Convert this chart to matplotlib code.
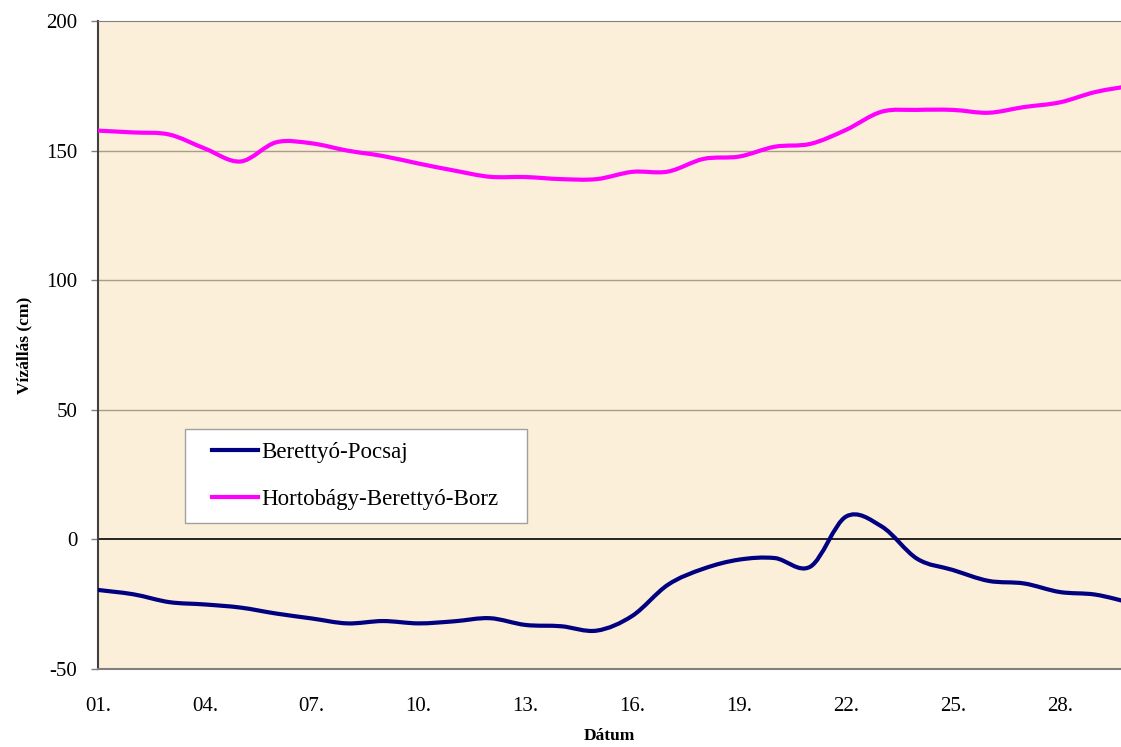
import numpy as np
import matplotlib
matplotlib.use("Agg")
from matplotlib import pyplot as plt
from matplotlib.path import Path
from matplotlib.patches import PathPatch
from matplotlib.lines import Line2D
from matplotlib.legend_handler import HandlerLine2D

napok = list(range(1, 31))
pocsaj = [-19.5, -21.2, -24.2, -25.1, -26.3, -28.6, -30.5, -32.4, -31.5, -32.4,
          -31.6, -30.4, -33.0, -33.5, -35.2, -29.5, -17.5, -11.3, -7.8, -7.2,
          -10.5, 8.8, 5.0, -7.5, -11.8, -16.0, -17.0, -20.3, -21.3, -24.5]
borz = [157.7, 157.0, 156.2, 150.8, 145.8, 153.2, 152.8, 150.0, 147.9, 145.0,
        142.3, 139.9, 139.8, 139.0, 139.0, 141.8, 141.9, 146.8, 147.7, 151.5,
        152.6, 158.0, 165.0, 165.7, 165.7, 164.6, 166.8, 168.6, 172.6, 175.0]
cimkek = ["01.", "04.", "07.", "10.", "13.", "16.", "19.", "22.", "25.", "28."]
cimke_napok = [1, 4, 7, 10, 13, 16, 19, 22, 25, 28]

plt.rcParams['font.family'] = ['Liberation Serif', 'DejaVu Serif']
plt.rcParams['axes.unicode_minus'] = False


def simitott(x, y):
    # Excel-szeru simitott vonal: Bezier szakaszok a pontok kozott
    x = np.asarray(x, float)
    y = np.asarray(y, float)
    n = len(x)
    verts = [(x[0], y[0])]
    codes = [Path.MOVETO]
    for i in range(n - 1):
        i0 = max(i - 1, 0)
        i3 = min(i + 2, n - 1)
        c1 = (x[i] + (x[i + 1] - x[i0]) / 6, y[i] + (y[i + 1] - y[i0]) / 6)
        c2 = (x[i + 1] - (x[i3] - x[i]) / 6, y[i + 1] - (y[i3] - y[i]) / 6)
        verts += [c1, c2, (x[i + 1], y[i + 1])]
        codes += [Path.CURVE4] * 3
    return Path(verts, codes)


class Kezelo(HandlerLine2D):
    # a jelmagyarazat vonala kicsit beljebb kezdodik
    def create_artists(self, legend, orig_handle, xdescent, ydescent,
                       width, height, fontsize, trans):
        arts = super().create_artists(legend, orig_handle, xdescent, ydescent,
                                      width, height, fontsize, trans)
        for a in arts:
            xd = np.asarray(a.get_xdata(), float)
            if len(xd) >= 2:
                a.set_xdata([xd[0] + 0.65 * fontsize, xd[-1]])
                a.set_ydata([a.get_ydata()[0]] * 2)
        return arts


fig = plt.figure(figsize=(11.21, 7.47), dpi=100)
ax = fig.add_axes([98 / 1121, 1 - 669 / 747, 1 - 98 / 1121, (669 - 21) / 747])
ax.set_facecolor('#FBEFD9')

ax.set_xlim(1, 29.72)
ax.set_ylim(-50, 200)

for g in [50, 100, 150]:
    ax.axhline(g, color='#A89C8C', lw=1, zorder=1)
ax.axhline(0, color='black', lw=1.2, zorder=1)

ax.add_patch(PathPatch(simitott(napok, pocsaj), fill=False, edgecolor='#000080',
                       lw=3, capstyle='round', joinstyle='round', zorder=3))
ax.add_patch(PathPatch(simitott(napok, borz), fill=False, edgecolor='#FF00FF',
                       lw=3, capstyle='round', joinstyle='round', zorder=3))

ax.set_yticks([-50, 0, 50, 100, 150, 200])
ax.set_xticks(cimke_napok)
ax.set_xticklabels(cimkek)
ax.tick_params(axis='y', labelsize=15, length=5, width=1, color='#808080', pad=10)
ax.tick_params(axis='x', labelsize=15, length=0, pad=20)

ax.spines['left'].set_color('#404040')
ax.spines['left'].set_linewidth(1.5)
ax.spines['bottom'].set_color('#808080')
ax.spines['bottom'].set_linewidth(1.5)
ax.spines['top'].set_color('#808080')
ax.spines['right'].set_visible(False)

ax.set_xlabel('Dátum', fontsize=12.5, fontweight='bold', labelpad=9)
ax.set_ylabel('Vízállás (cm)', fontsize=12.5, fontweight='bold', labelpad=10)

kezelok = [Line2D([], [], color='#000080', lw=3), Line2D([], [], color='#FF00FF', lw=3)]
leg = ax.legend(kezelok, ['Berettyó-Pocsaj', 'Hortobágy-Berettyó-Borz'],
                loc='upper left', bbox_to_anchor=(0.085, 0.2245, 0.3343, 0.1455),
                mode='expand', borderaxespad=0,
                fontsize=16.5, frameon=True, fancybox=False, framealpha=1,
                edgecolor='#A0A0A0', handlelength=2.65, handletextpad=0.15,
                borderpad=0.55, labelspacing=1.15,
                handler_map={Line2D: Kezelo()})
leg.get_frame().set_linewidth(1)
leg.set_zorder(5)

fig.savefig('out.png', dpi=100)
